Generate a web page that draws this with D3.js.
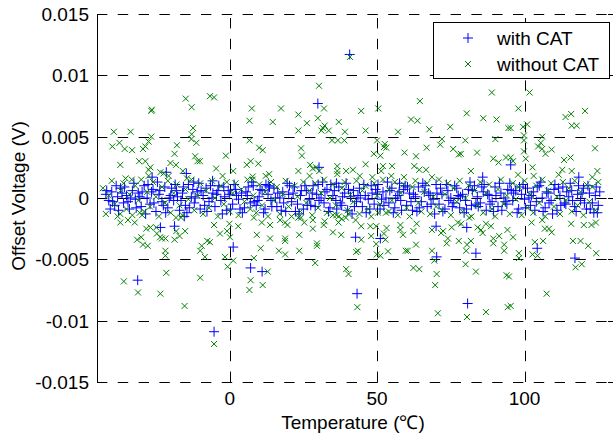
<!DOCTYPE html>
<html>
<head>
<meta charset="utf-8">
<script src="https://cdn.jsdelivr.net/npm/d3@7"></script>
<style>
  body { margin: 0; background: #fff; }
  text { font-family: "Liberation Sans", Arial, sans-serif; }
</style>
</head>
<body>
<script>
// Points are [temperature (°C), offset voltage (mV)]
const withCatBand = [
  [-42,0.3],[-41,-0.2],[-40,0.5],[-39,-0.6],[-38,0.1],[-37,0.8],[-36,-0.4],[-35,0.2],[-34,-0.9],[-33,0.6],
  [-32,-0.1],[-31,0.4],[-30,-0.7],[-29,1.0],[-28,0.0],[-27,-0.5],[-26,0.7],[-25,-1.1],[-24,0.3],[-23,-0.3],
  [-22,0.9],[-21,-0.8],[-20,0.2],[-19,-0.2],[-18,0.6],[-17,-1.0],[-16,0.4],[-15,-0.6],[-14,1.1],[-13,0.1],
  [-12,-0.4],[-11,0.5],[-10,-0.9],[-9,0.2],[-8,0.8],[-7,-0.3],[-6,0.0],[-5,-0.7],[-4,0.6],[-3,-0.2],
  [-2,0.9],[-1,-1.0],[0,0.3],[1,-0.5],[2,0.7],[3,-0.1],[4,0.4],[5,-0.8],[6,0.2],[7,-0.4],
  [8,1.0],[9,-0.6],[10,0.1],[11,0.6],[12,-0.9],[13,0.3],[14,-0.2],[15,0.8],[16,-0.7],[17,0.0],
  [18,0.5],[19,-1.1],[20,0.3],[21,-0.3],[22,0.9],[23,-0.5],[24,0.2],[25,-0.9],[26,0.6],[27,-0.1],
  [28,0.4],[29,-0.7],[30,1.1],[31,0.0],[32,-0.4],[33,0.7],[34,-0.8],[35,0.2],[36,-0.2],[37,0.9],
  [38,-0.6],[39,0.4],[40,-1.0],[41,0.1],[42,0.6],[43,-0.3],[44,0.8],[45,-0.7],[46,0.2],[47,-0.1],
  [48,1.0],[49,-0.5],[50,0.3],[51,-0.9],[52,0.5],[53,0.0],[54,-0.4],[55,0.8],[56,-0.8],[57,0.2],
  [58,-0.2],[59,0.7],[60,-0.6],[61,0.4],[62,-1.0],[63,0.1],[64,0.9],[65,-0.3],[66,0.5],[67,-0.7],
  [68,0.2],[69,-0.1],[70,1.1],[71,-0.5],[72,0.3],[73,-0.9],[74,0.6],[75,0.0],[76,-0.4],[77,0.8],
  [78,-0.8],[79,0.3],[80,-0.2],[81,0.7],[82,-0.6],[83,1.0],[84,0.1],[85,-0.4],[86,0.5],[87,-1.0],
  [88,0.2],[89,-0.3],[90,0.9],[91,-0.7],[92,0.4],[93,0.0],[94,-0.5],[95,1.2],[96,-0.2],[97,0.6],
  [98,-0.9],[99,0.3],[100,-0.1],[101,0.8],[102,-0.6],[103,0.5],[104,-0.3],[105,1.0],[106,0.0],[107,-0.8],
  [108,0.4],[109,-0.2],[110,0.7],[111,-1.0],[112,0.2],[113,0.9],[114,-0.5],[115,0.1],[116,0.6],[117,-0.7],
  [118,0.3],[119,-0.2],[120,0.8],[121,-0.9],[122,0.4],[123,-0.4],[124,0.2],[125,-0.6],
  [-40.5,-0.9],[-38.5,1.0],[-36.5,0.4],[-34.5,-0.3],[-32.5,1.2],[-30.5,0.1],[-28.5,-1.3],[-26.5,0.5],
  [-24.5,1.3],[-22.5,-0.6],[-20.5,0.0],[-18.5,1.1],[-16.5,-0.2],[-14.5,-1.2],[-12.5,0.7],[-10.5,1.2],
  [-8.5,-0.6],[-6.5,1.0],[-4.5,0.3],[-2.5,-1.3],[-0.5,0.6],[1.5,1.1],[3.5,-0.9],[5.5,0.5],
  [7.5,1.3],[9.5,-0.2],[11.5,-1.2],[13.5,0.9],[15.5,0.0],[17.5,-1.0],[19.5,1.2],[21.5,0.4],
  [23.5,-1.3],[25.5,1.0],[27.5,-0.6],[29.5,0.3],[31.5,1.3],[33.5,-1.1],[35.5,0.6],[37.5,-0.4],
  [39.5,1.2],[41.5,-1.3],[43.5,0.2],[45.5,1.1],[47.5,-0.9],[49.5,0.7],[51.5,-0.1],[53.5,1.3],
  [55.5,-1.2],[57.5,0.5],[59.5,1.0],[61.5,-0.3],[63.5,-1.1],[65.5,1.2],[67.5,0.4],[69.5,-1.3],
  [71.5,0.8],[73.5,1.1],[75.5,-0.7],[77.5,0.2],[79.5,-1.2],[81.5,1.3],[83.5,-0.5],[85.5,0.9],
  [87.5,0.3],[89.5,-1.1],[91.5,1.2],[93.5,-0.3],[95.5,0.6],[97.5,-1.2],[99.5,1.1],[101.5,0.0],
  [103.5,-1.0],[105.5,1.3],[107.5,0.5],[109.5,-1.3],[111.5,0.8],[113.5,-0.4],[115.5,1.2],[117.5,-1.1],
  [119.5,0.4],[121.5,1.0],[123.5,-1.2],[125.5,0.5],
  [-41.7,0.6],[-39.7,-0.3],[-37.7,-1.0],[-35.7,0.9],[-33.7,0.0],[-31.7,-0.8],[-29.7,0.5],[-27.7,1.1],
  [-25.7,-0.4],[-23.7,0.6],[-21.7,-1.2],[-19.7,0.8],[-17.7,0.1],[-15.7,0.9],[-13.7,-0.8],[-11.7,0.0],
  [-9.7,0.6],[-7.7,-1.1],[-5.7,0.4],[-3.7,1.0],[-1.7,0.1],[0.3,-0.9],[2.3,0.2],[4.3,-1.2],
  [6.3,0.9],[8.3,-0.3],[10.3,0.7],[12.3,1.1],[14.3,-0.7],[16.3,0.4],[18.3,-0.4],[20.3,1.0],
  [22.3,-1.1],[24.3,0.6],[26.3,-0.6],[28.3,1.0],[30.3,-0.2],[32.3,0.5],[34.3,1.1],[36.3,-0.9],
  [38.3,0.1],[40.3,0.7],[42.3,-0.7],[44.3,0.0],[46.3,-1.2],[48.3,0.4],[50.3,1.1],[52.3,-0.6],
  [54.3,0.6],[56.3,0.0],[58.3,-1.0],[60.3,0.9],[62.3,0.3],[64.3,-0.8],[66.3,1.0],[68.3,-0.5],
  [70.3,0.4],[72.3,-1.1],[74.3,-0.2],[76.3,1.0],[78.3,0.1],[80.3,-0.9],[82.3,0.6],[84.3,-0.7],
  [86.3,1.1],[88.3,-0.5],[90.3,0.2],[92.3,-1.0],[94.3,0.7],[96.3,0.4],[98.3,0.9],[100.3,-0.8],
  [102.3,0.2],[104.3,0.9],[106.3,-1.1],[108.3,-0.4],[110.3,1.1],[112.3,-0.6],[114.3,0.5],[116.3,-0.2],
  [118.3,1.0],[120.3,-0.4],[122.3,-0.9],[124.3,0.9]
];

const withCatSpread = [
  [-26.3,1.7],[-21.5,2.1],[-12.2,1.3],[-14.7,2.0],[-31.2,-6.7],[-23.5,-2.4],[-18.7,-2.3],[-15.4,-1.5],
  [-5.8,1.4],[13.1,1.0],[1.2,-4.0],[7.1,-5.7],[11.0,-6.0],[-5.3,-10.9],[40.7,11.7],[29.9,7.7],
  [30.3,2.5],[36.2,1.2],[57.6,1.2],[42.7,-3.2],[51.1,-3.3],[43.2,-7.8],[85.8,1.7],[70.0,-2.3],
  [80.4,-2.4],[83.5,-4.5],[70.2,-4.8],[80.7,-8.6],[95.3,2.7],[118.4,1.7],[104.3,-4.1],[117.1,-4.9],
  [124.7,-1.2]
];

const withoutCatBand = [
  [-43,0.8],[-42,-1.3],[-41,0.2],[-40,1.4],[-39,-0.5],[-38,-1.5],[-37,0.6],[-36,1.2],[-35,-0.9],[-34,0.3],
  [-33,-1.4],[-32,1.0],[-31,-0.2],[-30,1.5],[-29,-1.1],[-28,0.5],[-27,-0.7],[-26,1.3],[-25,0.1],[-24,-1.5],
  [-23,0.9],[-22,-0.4],[-21,1.4],[-20,-1.2],[-19,0.4],[-18,1.1],[-17,-0.6],[-16,-1.4],[-15,0.7],[-14,-0.1],
  [-13,1.5],[-12,-1.0],[-11,0.2],[-10,1.2],[-9,-1.3],[-8,0.6],[-7,-0.8],[-6,1.4],[-5,0.0],[-4,-1.5],
  [-3,1.0],[-2,-0.5],[-1,1.3],[0,-1.1],[1,0.4],[2,1.2],[3,-1.4],[4,0.7],[5,-0.3],[6,1.5],
  [7,-0.9],[8,0.2],[9,-1.2],[10,1.1],[11,-0.6],[12,0.5],[13,-1.5],[14,1.3],[15,-0.2],[16,0.9],
  [17,-1.3],[18,0.3],[19,1.4],[20,-0.7],[21,-1.5],[22,1.0],[23,0.1],[24,-1.1],[25,1.3],[26,-0.4],
  [27,0.6],[28,-1.4],[29,1.2],[30,-0.8],[31,0.4],[32,1.5],[33,-1.2],[34,0.0],[35,1.1],[36,-0.6],
  [37,-1.5],[38,0.8],[39,1.3],[40,-1.0],[41,0.3],[42,-0.3],[43,1.4],[44,-1.3],[45,0.6],[46,1.0],
  [47,-0.9],[48,-1.5],[49,1.2],[50,0.2],[51,-0.5],[52,1.5],[53,-1.2],[54,0.7],[55,-0.2],[56,1.3],
  [57,-1.4],[58,0.4],[59,1.1],[60,-0.8],[61,-1.5],[62,0.9],[63,1.4],[64,-0.4],[65,-1.1],[66,0.5],
  [67,1.2],[68,-1.3],[69,0.1],[70,-0.7],[71,1.5],[72,-1.0],[73,0.3],[74,1.2],[75,-1.4],[76,0.8],
  [77,-0.3],[78,1.4],[79,-1.1],[80,0.0],[81,1.0],[82,-1.5],[83,0.6],[84,-0.6],[85,1.3],[86,-1.2],
  [87,0.4],[88,1.1],[89,-0.9],[90,-1.5],[91,0.7],[92,1.5],[93,-0.5],[94,0.2],[95,-1.3],[96,1.2],
  [97,-0.1],[98,0.9],[99,-1.4],[100,1.4],[101,-0.8],[102,0.3],[103,-1.2],[104,1.0],[105,-0.4],[106,1.5],
  [107,-1.5],[108,0.6],[109,1.2],[110,-0.7],[111,0.1],[112,-1.3],[113,1.3],[114,-0.2],[115,0.8],[116,-1.1],
  [117,1.4],[118,-0.6],[119,0.5],[120,-1.4],[121,1.1],[122,-0.3],[123,0.9],[124,-1.0],[125,1.3]
];

const withoutCatSpread = [
  // -45 .. -10
  [-14.9,8.1],[-12.9,7.4],[-26.6,7.1],[-26.4,7.2],[-39.3,5.4],[-33.6,5.4],[-12.4,5.7],[-12.9,5.2],
  [-26.6,5.0],[-27.5,4.6],[-13.0,4.8],[-11.3,4.5],[-39.8,4.2],[-37.4,4.5],[-35.6,4.0],[-33.1,3.9],
  [-28.6,4.2],[-29.4,4.0],[-17.9,4.3],[-18.7,3.6],[-11.7,3.4],[-10.9,3.0],[-37.1,2.7],[-30.7,3.0],
  [-28.6,3.0],[-20.1,2.85],[-18.2,2.7],[-26.9,2.5],[-27.5,2.3],[-15.9,2.2],[-23.5,2.1],[-22.4,2.0],
  [-20.7,1.8],[-35.3,1.6],[-33.2,1.5],[-14.5,1.6],[-27.5,1.8],
  [-37.1,-1.3],[-37.1,-2.0],[-34.5,-1.8],[-32.2,-2.0],[-30.5,-1.2],[-29.7,-1.4],[-28.3,-2.5],[-26.9,-2.4],
  [-24.9,-2.4],[-24.7,-2.9],[-31.4,-3.4],[-30.0,-3.2],[-29.4,-3.8],[-27.8,-3.9],[-23.0,-3.3],[-21.8,-3.3],
  [-23.6,-3.2],[-18.7,-3.4],[-18.1,-2.7],[-17.0,-3.1],[-15.1,-2.7],[-18.2,-1.6],[-16.5,-1.6],[-21.8,-4.3],
  [-21.8,-4.7],[-10.0,-4.3],[-21.5,-6.1],[-35.9,-6.8],[-31.1,-7.7],[-23.5,-7.8],[-15.3,-8.8],[-10.0,-6.5],
  // -10 .. 25
  [-6.7,8.3],[-5.3,8.2],[7.5,7.3],[17.4,7.3],[6.7,6.3],[14.6,6.2],[23.3,6.8],[23.3,5.5],
  [6.7,4.7],[10.0,4.1],[11.2,3.9],[24.2,4.05],[24.5,3.45],[-1.3,3.45],[7.1,3.0],[5.8,2.7],
  [9.7,2.8],[-4.6,2.4],[-2.4,1.8],[1.2,2.2],[7.8,1.75],[7.8,1.5],[12.2,1.8],[13.4,1.95],
  [23.3,2.2],[-10.1,3.0],
  [-5.3,-2.2],[-0.1,-2.1],[-3.3,-2.9],[-0.9,-2.7],[0.1,-3.2],[2.9,-2.3],[-7.6,-3.5],[-6.7,-3.6],
  [-9.5,-3.9],[-8.4,-4.8],[-1.6,-4.8],[1.2,-5.1],[-0.7,-5.6],[9.2,-3.0],[13.7,-3.3],[10.5,-4.1],
  [8.2,-4.9],[18.8,-3.3],[18.8,-3.5],[16.7,-4.3],[18.8,-4.6],[23.6,-3.0],[23.6,-4.3],[10.9,-2.0],
  [13.7,-2.2],[17.1,-1.8],[18.8,-2.0],[19.6,-2.2],[23.3,-1.6],[24.2,-1.6],[8.2,-1.6],[12.9,-6.0],
  [7.1,-6.7],[6.7,-7.5],[11.2,-7.1],[-5.3,-11.9],
  // 25 .. 60
  [40.8,11.5],[30.3,9.15],[32.0,7.3],[26.2,6.1],[29.9,6.5],[32.2,5.9],[31.6,5.7],[31.1,5.5],
  [33.6,5.5],[37.0,6.2],[39.1,5.4],[44.6,7.1],[50.4,7.3],[46.1,5.5],[57.1,5.4],[34.7,4.7],
  [36.7,4.7],[38.9,4.7],[50.0,4.7],[52.6,4.4],[53.1,4.1],[52.3,4.15],[48.9,3.6],[51.1,3.45],
  [59.3,3.7],[27.3,2.7],[28.2,2.4],[29.3,2.5],[30.4,2.2],[36.5,2.6],[36.5,2.2],[36.5,1.95],
  [39.5,2.2],[41.8,2.3],[46.1,2.75],[44.1,1.8],[48.4,1.7],[52.0,2.6],[51.4,2.2],[55.1,2.6],
  [54.8,1.8],[59.1,1.7],[27.1,1.8],
  [28.2,-1.8],[28.2,-2.5],[25.3,-2.0],[32.2,-1.9],[31.9,-2.2],[35.0,-1.4],[36.2,-1.4],[36.9,-2.0],
  [38.0,-1.7],[39.4,-1.6],[40.3,-1.3],[42.7,-1.8],[35.0,-2.8],[37.8,-3.0],[29.6,-3.7],[29.6,-3.9],
  [44.6,-2.3],[44.6,-3.4],[42.9,-4.4],[43.5,-4.3],[47.7,-2.3],[49.7,-2.3],[48.0,-3.1],[49.7,-3.75],
  [51.1,-4.7],[49.9,-4.6],[53.7,-4.35],[52.3,-2.9],[53.2,-2.45],[52.8,-3.4],[54.0,-1.1],[57.9,-2.2],
  [57.9,-2.6],[58.8,-3.0],[59.7,-4.3],[29.0,-5.3],[39.5,-5.8],[40.3,-6.2],[43.3,-8.9],[50.3,-1.2],
  // 60 .. 95
  [88.9,8.6],[64.5,7.9],[61.5,6.4],[63.7,6.3],[80.4,6.9],[86.0,6.5],[90.5,6.4],[67.7,5.6],
  [74.8,5.8],[94.5,5.7],[72.0,4.8],[71.4,4.35],[79.9,4.7],[90.1,4.8],[66.8,4.1],[63.2,3.4],
  [75.8,4.0],[77.7,3.55],[78.4,3.6],[83.9,3.7],[89.4,3.2],[91.2,2.9],[93.7,3.3],[62.6,2.6],
  [64.3,2.3],[66.6,2.3],[81.8,2.2],[68.6,1.7],
  [63.4,-2.1],[62.3,-2.7],[63.2,-3.8],[60.4,-4.3],[68.6,-2.6],[71.7,-2.85],[72.4,-2.7],[73.6,-3.7],
  [74.0,-3.3],[75.3,-2.4],[77.7,-3.5],[77.4,-2.0],[78.5,-2.1],[68.6,-4.3],[69.4,-5.1],[80.5,-3.8],
  [81.8,-3.5],[80.2,-4.3],[80.0,-5.4],[83.5,-6.0],[84.1,-2.4],[85.2,-2.6],[85.8,-2.85],[86.9,-2.1],
  [88.6,-2.3],[89.4,-3.3],[89.4,-3.7],[91.4,-3.1],[93.1,-3.8],[93.1,-4.3],[94.2,-2.6],[62.3,-5.7],
  [64.3,-5.8],[70.2,-6.2],[69.7,-7.1],[93.9,-6.3],[70.6,-9.4],[80.5,-9.7],[86.9,-9.3],[94.3,-8.9],
  [81.2,-1.6],
  // 95 .. 126
  [101.7,8.6],[97.9,7.3],[113.9,6.6],[115.8,6.85],[120.5,7.1],[116.0,5.9],[117.7,5.9],[95.3,5.7],
  [99.5,5.8],[100.9,6.0],[99.8,5.1],[99.8,4.7],[106.0,5.0],[105.5,4.5],[104.6,4.2],[106.0,4.0],
  [107.1,3.6],[109.2,3.95],[123.9,4.05],[99.8,3.8],[100.4,3.2],[95.3,3.3],[96.1,3.0],[113.4,3.1],
  [115.6,3.3],[97.8,1.9],[102.7,2.5],[103.1,1.8],[112.8,2.3],[111.6,1.9],[116.0,2.2],[124.7,2.2],
  [123.0,1.7],
  [102.4,-2.0],[106.0,-1.8],[106.9,-2.5],[108.3,-2.5],[109.2,-2.8],[115.8,-2.1],[120.1,-2.2],[122.7,-2.2],
  [124.2,-2.0],[96.1,-3.2],[103.5,-3.6],[106.3,-3.5],[116.4,-3.5],[119.0,-3.5],[121.6,-3.9],[124.3,-4.5],
  [98.1,-4.5],[98.1,-4.9],[102.7,-4.6],[104.4,-4.7],[117.3,-5.65],[119.4,-5.4],[94.7,-6.4],[107.5,-7.8],
  [95.3,-8.8]
];

const xTicks = [0, 50, 100];
const yTicks = [-15, -10, -5, 0, 5, 10, 15];   // mV
const seriesNames = ["with CAT", "without CAT"];

const withCat = withCatBand.concat(withCatSpread);
const withoutCat = withoutCatBand.concat(withoutCatSpread);

const W = 614, H = 434;
const margin = { top: 14, right: 1, bottom: 52, left: 97 };
const plotW = W - margin.left - margin.right;
const plotH = H - margin.top - margin.bottom;

const svg = d3.select("body").append("svg")
  .attr("width", W)
  .attr("height", H);

const x = d3.scaleLinear().domain([-45, 130]).range([0, plotW]);
const y = d3.scaleLinear().domain([-15, 15]).range([plotH, 0]);

const chart = svg.append("g")
  .attr("transform", `translate(${margin.left},${margin.top})`);

// grille pointillée
chart.append("g").selectAll("line")
  .data(yTicks)
  .join("line")
  .attr("x1", 0).attr("x2", plotW)
  .attr("y1", d => Math.round(y(d)) + 0.5)
  .attr("y2", d => Math.round(y(d)) + 0.5)
  .attr("stroke", "#000")
  .attr("stroke-dasharray", "10.4,10.4");

chart.append("g").selectAll("line")
  .data(xTicks)
  .join("line")
  .attr("x1", d => Math.round(x(d)) + 0.5)
  .attr("x2", d => Math.round(x(d)) + 0.5)
  .attr("y1", plotH).attr("y2", 0)
  .attr("stroke", "#000")
  .attr("stroke-dasharray", "10.4,10.4");

// markers
chart.append("g").selectAll("path")
  .data(withCat)
  .join("path")
  .attr("transform", d => `translate(${x(d[0])},${y(d[1])})`)
  .attr("d", "M-5,0H5M0,-5V5")
  .attr("fill", "none")
  .attr("stroke", "#0000ff")
  .attr("stroke-width", 1);

chart.append("g").selectAll("path")
  .data(withoutCat)
  .join("path")
  .attr("transform", d => `translate(${x(d[0])},${y(d[1])})`)
  .attr("d", "M-3,-3L3,3M-3,3L3,-3")
  .attr("fill", "none")
  .attr("stroke", "#008000")
  .attr("stroke-width", 1);

// left axis
chart.append("line")
  .attr("x1", 0.5).attr("x2", 0.5)
  .attr("y1", 0).attr("y2", plotH)
  .attr("stroke", "#000");

// ticks pointing inward
chart.append("g").selectAll("line")
  .data(yTicks)
  .join("line")
  .attr("x1", 0).attr("x2", 5)
  .attr("y1", d => Math.round(y(d)) + 0.5)
  .attr("y2", d => Math.round(y(d)) + 0.5)
  .attr("stroke", "#000");
chart.append("g").selectAll("line")
  .data(yTicks)
  .join("line")
  .attr("x1", plotW - 5).attr("x2", plotW)
  .attr("y1", d => Math.round(y(d)) + 0.5)
  .attr("y2", d => Math.round(y(d)) + 0.5)
  .attr("stroke", "#000");
chart.append("g").selectAll("line")
  .data(xTicks)
  .join("line")
  .attr("x1", d => Math.round(x(d)) + 0.5)
  .attr("x2", d => Math.round(x(d)) + 0.5)
  .attr("y1", plotH).attr("y2", plotH - 5)
  .attr("stroke", "#000");

// tick labels
chart.append("g").selectAll("text")
  .data(yTicks)
  .join("text")
  .attr("x", -8)
  .attr("y", d => y(d))
  .attr("dy", "0.36em")
  .attr("text-anchor", "end")
  .style("font-size", "19px")
  .text(d => String(d / 1000));

chart.append("g").selectAll("text")
  .data(xTicks)
  .join("text")
  .attr("x", d => x(d))
  .attr("y", plotH + 23)
  .attr("text-anchor", "middle")
  .style("font-size", "19px")
  .text(d => d);

// axis labels
svg.append("text")
  .attr("x", 353)
  .attr("y", 429)
  .attr("text-anchor", "middle")
  .style("font-size", "19px")
  .text("Temperature (\u2103)");

svg.append("text")
  .attr("transform", "translate(25,196) rotate(-90)")
  .attr("text-anchor", "middle")
  .style("font-size", "19px")
  .text("Offset Voltage (V)");

// legend
const legend = svg.append("g");
legend.append("rect")
  .attr("x", 433.5).attr("y", 22.5)
  .attr("width", 176).attr("height", 56)
  .attr("fill", "#fff")
  .attr("stroke", "#000");

const legendMarks = ["M-5,0H5M0,-5V5", "M-3,-3L3,3M-3,3L3,-3"];
const legendColors = ["#0000ff", "#008000"];
legend.selectAll("path")
  .data(seriesNames)
  .join("path")
  .attr("transform", (d, i) => `translate(468,${38 + i * 26})`)
  .attr("d", (d, i) => legendMarks[i])
  .attr("fill", "none")
  .attr("stroke", (d, i) => legendColors[i]);

legend.selectAll("text")
  .data(seriesNames)
  .join("text")
  .attr("x", 497)
  .attr("y", (d, i) => 38 + i * 26)
  .attr("dy", "0.36em")
  .style("font-size", "19px")
  .text(d => d);
</script>
</body>
</html>
